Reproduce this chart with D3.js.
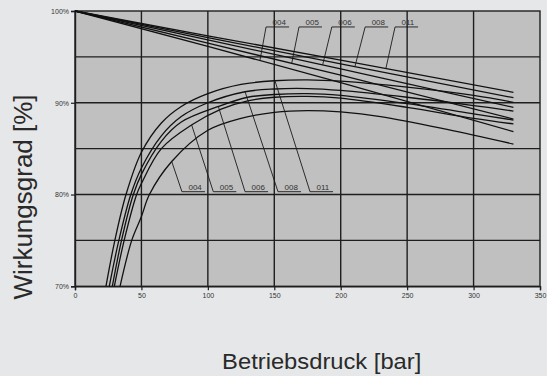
<!DOCTYPE html>
<html>
<head>
<meta charset="utf-8">
<script src="https://cdn.jsdelivr.net/npm/d3@7"></script>
<style>
  html, body { margin: 0; padding: 0; background: #e6e7e9; }
  svg { display: block; }
  text { font-family: "Liberation Sans", Arial, sans-serif; }
</style>
</head>
<body>
<svg id="chart" width="547" height="376"></svg>
<script>
// Pump variants (displacement sizes)
const variants = ['004', '005', '006', '008', '011'];

// Axis ticks
const xTicks = [0, 50, 100, 150, 200, 250, 300, 350];
const yTicks = [70, 80, 90, 100];
const yGrid = [75, 80, 85, 90, 95];
const xGrid = [50, 100, 150, 200, 250, 300];

// Volumetric efficiency [%] vs. operating pressure [bar]
const volBar = [0, 100, 200, 330];
const vol004 = [100, 96.15, 92.2, 86.85];
const vol005 = [100, 96.5, 93.0, 88.23];
const vol006 = [100, 96.85, 93.7, 89.5];
const vol008 = [100, 97.1, 94.25, 90.55];
const vol011 = [100, 97.3, 94.65, 91.14];

// Hydraulic-mechanical efficiency [%] vs. operating pressure [bar]
const hmBar004 = [33.9, 42.7, 50, 56, 72.8, 100, 125, 150, 175, 200, 230, 280, 330];
const hmPct004 = [70, 75, 77.6, 80, 83.6, 87.0, 88.3, 88.95, 89.15, 89.0, 88.5, 87.1, 85.5];
const hmBar005 = [29.6, 37, 46.4, 50, 65, 88, 110, 130, 150, 175, 200, 250, 300, 330];
const hmPct005 = [70, 75, 80, 81.2, 85.0, 87.6, 89.3, 90.2, 90.6, 90.7, 90.5, 89.5, 88.3, 87.69];
const hmBar006 = [28.1, 35, 43.9, 50, 65, 80, 108, 130, 150, 175, 200, 250, 300, 330];
const hmPct006 = [70, 75, 80, 82.2, 85.8, 87.9, 89.6, 90.6, 90.9, 91.0, 90.8, 89.9, 88.8, 88.12];
const hmBar008 = [25.8, 33, 42, 50, 65, 80, 100, 128, 150, 175, 200, 250, 300, 330];
const hmPct008 = [70, 75, 80, 82.9, 86.4, 88.5, 90.0, 91.2, 91.5, 91.55, 91.35, 90.6, 89.7, 89.1];
const hmBar011 = [23.3, 30, 38.4, 50, 65, 80, 100, 125, 150, 175, 200, 250, 300, 330];
const hmPct011 = [70, 75, 80, 84.6, 87.8, 89.6, 91.0, 92.0, 92.4, 92.5, 92.35, 91.7, 90.8, 90.05];

// Label callouts: where each leader touches its curve and where the label sits
const volTipBar = [139.2, 163.1, 186.4, 210.7, 234];
const volLabelBar = [143.8, 168.6, 193.3, 218.4, 240.9];
const volLabelPct = 98.26;
const hmTipBar = [72.8, 87.8, 107.9, 128, 150.5];
const hmLabelBar = [80.5, 104.1, 128, 152.8, 176.9];
const hmLabelPct = 80.31;

const volSeries = [vol004, vol005, vol006, vol008, vol011]
  .map(vals => volBar.map((b, i) => [b, vals[i]]));
const hmSeries = [[hmBar004, hmPct004], [hmBar005, hmPct005], [hmBar006, hmPct006],
                  [hmBar008, hmPct008], [hmBar011, hmPct011]]
  .map(([bs, ps]) => bs.map((b, i) => [b, ps[i]]));

const svg = d3.select('#chart');
const x = d3.scaleLinear().domain([0, 350]).range([75, 540]);
const y = d3.scaleLinear().domain([70, 100]).range([286.3, 11]);

// Plot background
svg.append('rect')
  .attr('x', x(0)).attr('y', y(100))
  .attr('width', x(350) - x(0)).attr('height', y(70) - y(100))
  .attr('fill', '#c0c0c0');

// Grid
const grid = svg.append('g').attr('stroke', '#1e1e1e').attr('stroke-width', 1.4);
grid.selectAll('line.h').data(yGrid).join('line').attr('class', 'h')
  .attr('x1', x(0)).attr('x2', x(350)).attr('y1', d => y(d)).attr('y2', d => y(d));
grid.selectAll('line.v').data(xGrid).join('line').attr('class', 'v')
  .attr('y1', y(70)).attr('y2', y(100)).attr('x1', d => x(d)).attr('x2', d => x(d));

// Frame
svg.append('rect')
  .attr('x', x(0)).attr('y', y(100))
  .attr('width', x(350) - x(0)).attr('height', y(70) - y(100))
  .attr('fill', 'none').attr('stroke', '#1e1e1e').attr('stroke-width', 1.4);

// Axes
const xAxis = svg.append('g').attr('transform', `translate(0,${y(70)})`)
  .call(d3.axisBottom(x).tickValues(xTicks).tickSize(4).tickPadding(3));
const yAxis = svg.append('g').attr('transform', `translate(${x(0)},0)`)
  .call(d3.axisLeft(y).tickValues(yTicks).tickSize(4).tickPadding(2).tickFormat(d => d + '%'));
[xAxis, yAxis].forEach(a => {
  a.select('.domain').attr('stroke', '#1e1e1e').attr('stroke-width', 1.4);
  a.selectAll('.tick line').attr('stroke', '#1e1e1e').attr('stroke-width', 1.2);
  a.selectAll('.tick text').attr('font-size', 7).attr('fill', '#333')
    .attr('font-family', '"Liberation Sans", Arial, sans-serif');
});

// Curves
const plot = svg.append('g');
const lineLin = d3.line().x(d => x(d[0])).y(d => y(d[1]));
const lineSmooth = d3.line().x(d => x(d[0])).y(d => y(d[1])).curve(d3.curveCatmullRom.alpha(0.5));

const volPaths = plot.selectAll('path.vol').data(volSeries).join('path').attr('class', 'vol')
  .attr('d', lineLin).attr('fill', 'none').attr('stroke', '#111').attr('stroke-width', 1.3);
const hmPaths = plot.selectAll('path.hm').data(hmSeries).join('path').attr('class', 'hm')
  .attr('d', lineSmooth).attr('fill', 'none').attr('stroke', '#111').attr('stroke-width', 1.3);

// Find the point on a rendered path at a given pixel x
function pointAtX(path, px) {
  const len = path.getTotalLength();
  let lo = 0, hi = len;
  for (let k = 0; k < 40; k++) {
    const mid = (lo + hi) / 2;
    if (path.getPointAtLength(mid).x < px) lo = mid; else hi = mid;
  }
  return path.getPointAtLength((lo + hi) / 2);
}

// Callouts
function callouts(paths, tipBars, labelBars, labelPct) {
  const g = svg.append('g');
  paths.each(function (d, i) {
    const tip = pointAtX(this, x(tipBars[i]));
    const lx = x(labelBars[i]), ly = y(labelPct);
    g.append('path')
      .attr('d', `M${tip.x},${tip.y}L${lx},${ly}L${lx + 23},${ly}`)
      .attr('fill', 'none').attr('stroke', '#1a1a1a').attr('stroke-width', 0.9);
    g.append('text').attr('x', lx + 6.5).attr('y', ly - 1.6)
      .attr('font-size', 8).attr('fill', '#333').text(variants[i]);
  });
}
callouts(volPaths, volTipBar, volLabelBar, volLabelPct);
callouts(hmPaths, hmTipBar, hmLabelBar, hmLabelPct);

// Axis titles
svg.append('text')
  .attr('transform', 'translate(321.7,369) scale(1.08,1)')
  .attr('text-anchor', 'middle').attr('font-size', 22).attr('fill', '#2a2a2a')
  .text('Betriebsdruck [bar]');
svg.append('text')
  .attr('transform', 'translate(32,197) rotate(-90)')
  .attr('text-anchor', 'middle').attr('font-size', 26).attr('fill', '#2a2a2a')
  .text('Wirkungsgrad [%]');
</script>
</body>
</html>
